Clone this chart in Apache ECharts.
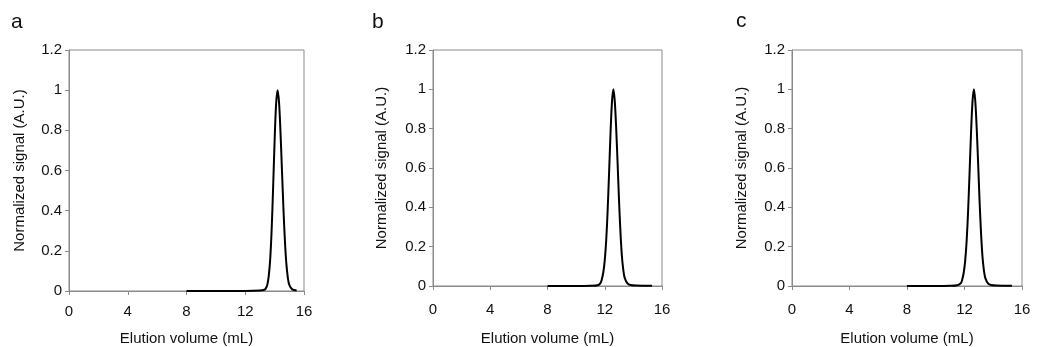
<!DOCTYPE html>
<html>
<head>
<meta charset="utf-8">
<script src="https://cdn.jsdelivr.net/npm/echarts@6/dist/echarts.min.js"></script>
<style>
html,body{margin:0;padding:0;background:#fff;}
#chart{width:1040px;height:347px;}
</style>
</head>
<body>
<div id="chart"></div>
<script>
// ---- Data ----
const panelLabels = ['a', 'b', 'c'];
const xTitle = 'Elution volume (mL)';
const yTitle = 'Normalized signal (A.U.)';

const xA = [8, 9, 10, 11, 12, 13, 13.3, 13.4, 13.5, 13.6, 13.7, 13.8, 13.9, 14.0, 14.1, 14.2, 14.3, 14.4, 14.5, 14.6, 14.7, 14.8, 14.9, 15.0, 15.2, 15.5];
const yA = [0, 0, 0, 0, 0, 0.002, 0.006, 0.013, 0.03, 0.075, 0.16, 0.31, 0.52, 0.75, 0.93, 1.0, 0.94, 0.79, 0.6, 0.41, 0.25, 0.135, 0.066, 0.03, 0.008, 0.003];

const xB = [8, 9, 10, 11, 11.5, 11.7, 11.8, 11.9, 12.0, 12.1, 12.2, 12.3, 12.4, 12.5, 12.6, 12.7, 12.8, 12.9, 13.0, 13.1, 13.2, 13.3, 13.4, 13.6, 13.8, 14.2, 15.3];
const yB = [0, 0, 0, 0.001, 0.004, 0.015, 0.035, 0.07, 0.13, 0.23, 0.38, 0.57, 0.77, 0.93, 1.0, 0.94, 0.8, 0.62, 0.43, 0.27, 0.15, 0.08, 0.04, 0.012, 0.005, 0.002, 0.001];

const xC = [8, 9, 10, 11, 11.5, 11.75, 11.85, 11.95, 12.05, 12.15, 12.25, 12.35, 12.45, 12.55, 12.65, 12.75, 12.85, 12.95, 13.05, 13.15, 13.25, 13.35, 13.45, 13.65, 13.85, 14.2, 15.3];
const yC = [0, 0, 0, 0.001, 0.004, 0.015, 0.035, 0.07, 0.13, 0.23, 0.38, 0.57, 0.77, 0.93, 1.0, 0.94, 0.8, 0.62, 0.43, 0.27, 0.15, 0.08, 0.04, 0.012, 0.005, 0.002, 0.001];

const xTicks = [0, 4, 8, 12, 16];
const yTicks = [0, 0.2, 0.4, 0.6, 0.8, 1, 1.2];

// ---- Layout ----
const grids = [
  {left: 69, top: 50, width: 235, height: 241},
  {left: 433, top: 50, width: 229, height: 236},
  {left: 792, top: 50, width: 230, height: 236}
];
const yNameGap = [42, 44, 43];
const xNameGap = [40, 45, 45];
const xLabelMargin = [13, 16, 16];
const labelPos = [{left: 11, top: 12}, {left: 372, top: 12}, {left: 736, top: 11}];
const series = [[xA, yA], [xB, yB], [xC, yC]];

const FONT = '"Liberation Sans", Arial, sans-serif';
const gray = '#8a8a8a';
const txt = '#111';

const option = {
  animation: false,
  backgroundColor: '#fff',
  title: panelLabels.map((t, i) => ({
    text: t, left: labelPos[i].left, top: labelPos[i].top, padding: 0,
    textStyle: {fontFamily: FONT, fontSize: 21, fontWeight: 'normal', color: txt}
  })),
  grid: grids.map(g => Object.assign({show: true, borderColor: gray, borderWidth: 1,
    backgroundColor: 'transparent', containLabel: false, outerBoundsMode: 'none'}, g)),
  xAxis: grids.map((g, i) => ({
    type: 'value', gridIndex: i, min: xTicks[0], max: xTicks[xTicks.length - 1], interval: 4,
    name: xTitle, nameLocation: 'middle', nameGap: xNameGap[i],
    nameTextStyle: {fontFamily: FONT, fontSize: 15, color: txt},
    axisLine: {show: true, lineStyle: {color: gray, width: 1}},
    axisTick: {show: true, inside: false, length: 4, lineStyle: {color: gray}},
    axisLabel: {fontFamily: FONT, fontSize: 15, color: txt, margin: xLabelMargin[i]},
    splitLine: {show: false}
  })),
  yAxis: grids.map((g, i) => ({
    type: 'value', gridIndex: i, min: yTicks[0], max: yTicks[yTicks.length - 1], interval: 0.2,
    name: yTitle, nameLocation: 'middle', nameGap: yNameGap[i], nameRotate: 90,
    nameTextStyle: {fontFamily: FONT, fontSize: 15, color: txt},
    axisLine: {show: true, lineStyle: {color: gray, width: 1}},
    axisTick: {show: true, inside: false, length: 4, lineStyle: {color: gray}},
    axisLabel: {fontFamily: FONT, fontSize: 15, color: txt, margin: 7,
      formatter: v => String(Math.round(v * 10) / 10)},
    splitLine: {show: false}
  })),
  series: series.map((s, i) => ({
    type: 'line', xAxisIndex: i, yAxisIndex: i, showSymbol: false, symbol: 'none',
    smooth: 0.3,
    lineStyle: {color: '#000', width: 2},
    data: s[0].map((x, k) => [x, s[1][k]])
  }))
};

const chart = echarts.init(document.getElementById('chart'), null, {renderer: 'canvas'});
chart.setOption(option);
</script>
</body>
</html>
